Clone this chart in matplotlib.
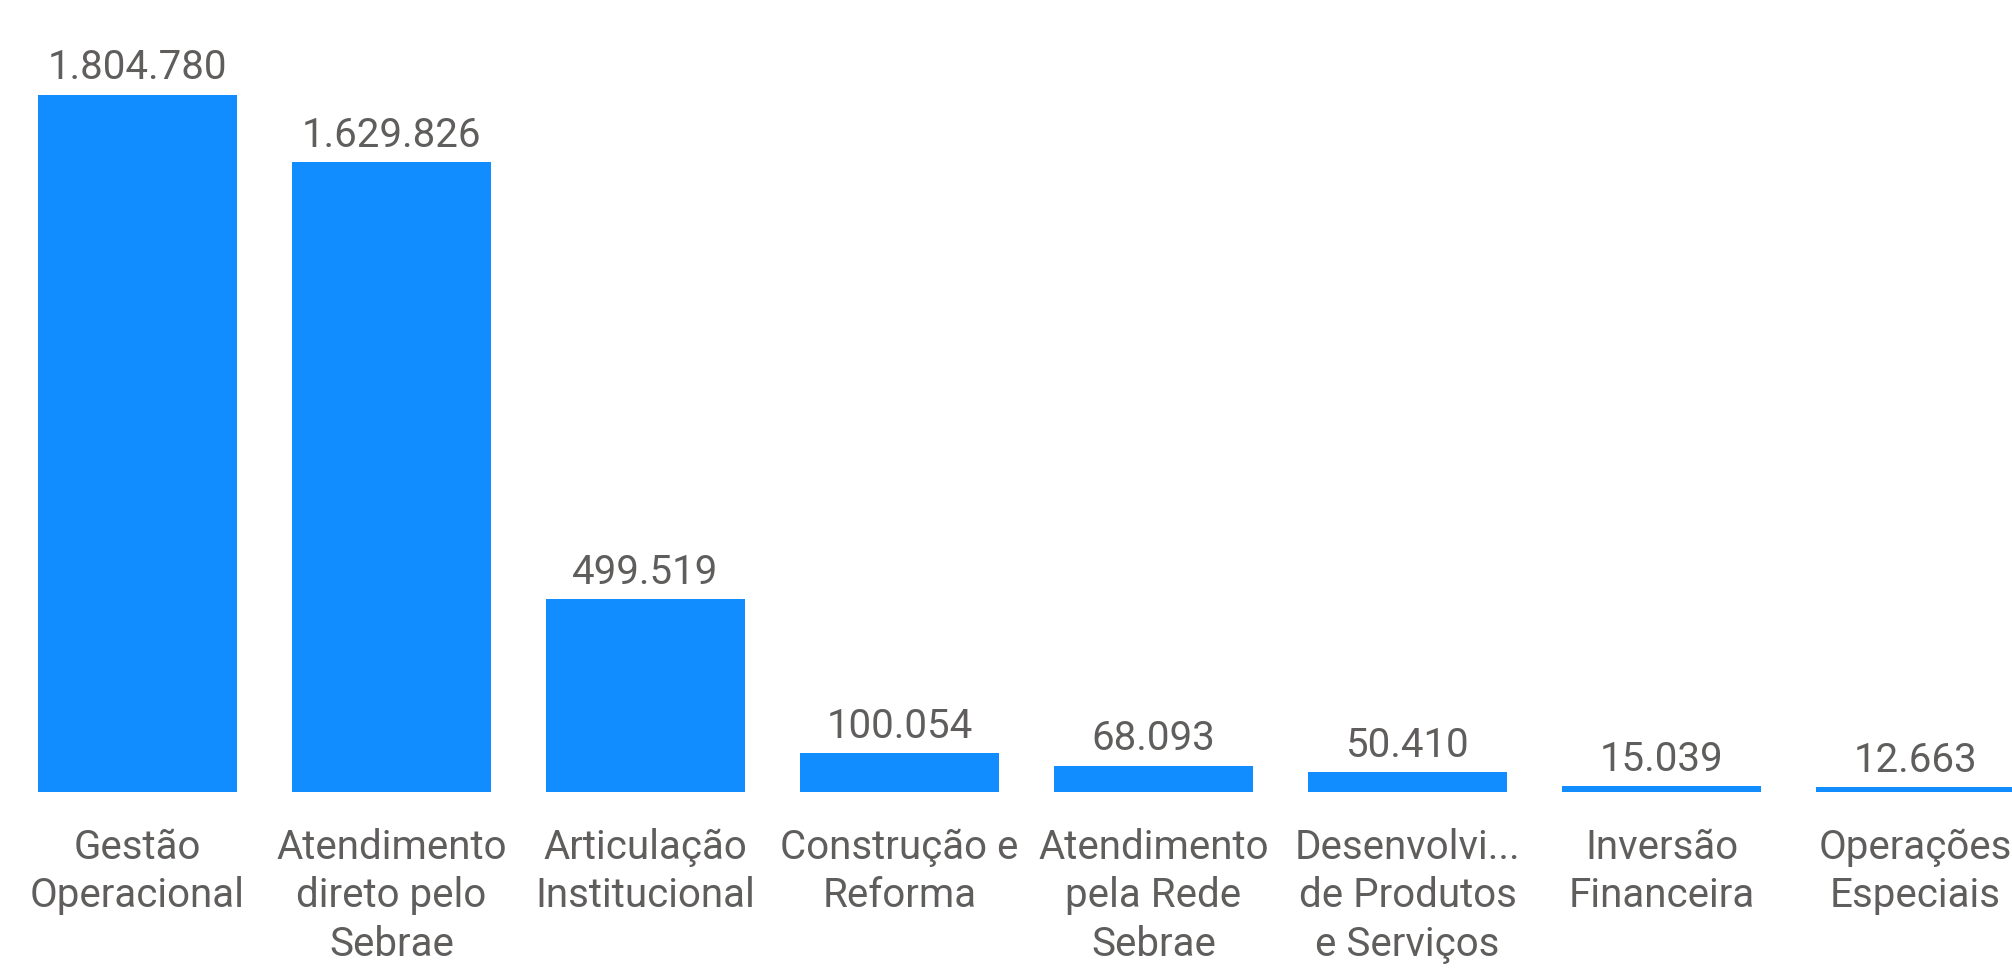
import matplotlib.pyplot as plt
import numpy as np

categories = ["Gestão\nOperacional", "Atendimento\ndireto pelo\nSebrae",
              "Articulação\nInstitucional", "Construção e\nReforma",
              "Atendimento\npela Rede\nSebrae", "Desenvolvi...\nde Produtos\ne Serviços",
              "Inversão\nFinanceira", "Operações\nEspeciais"]
values = [1804780, 1629826, 499519, 100054, 68093, 50410, 15039, 12663]

bar_color = "#118DFF"
text_color = "#605E5C"
plt.rcParams['font.family'] = ['Roboto', 'DejaVu Sans']

fig = plt.figure(figsize=(20.12, 9.68), dpi=100)
ax = fig.add_axes([0, 0.182, 1, 0.818])

x = np.arange(len(values))
ax.bar(x, values, width=0.783, color=bar_color)

for i, v in enumerate(values):
    label = f"{v:,}".replace(",", ".")
    ax.annotate(label, (i, v), xytext=(0, 11), textcoords="offset points",
                ha="center", va="baseline", fontsize=29, color=text_color)

ax.set_xlim(-0.541, 7.38)
ax.set_ylim(0, 2.05e6)
ax.set_xticks(x)
ax.set_xticklabels(categories, fontsize=29, color=text_color, linespacing=1.3)
ax.tick_params(axis="x", length=0, pad=26)
ax.set_yticks([])
for s in ax.spines.values():
    s.set_visible(False)

fig.savefig("out.png", dpi=100)
